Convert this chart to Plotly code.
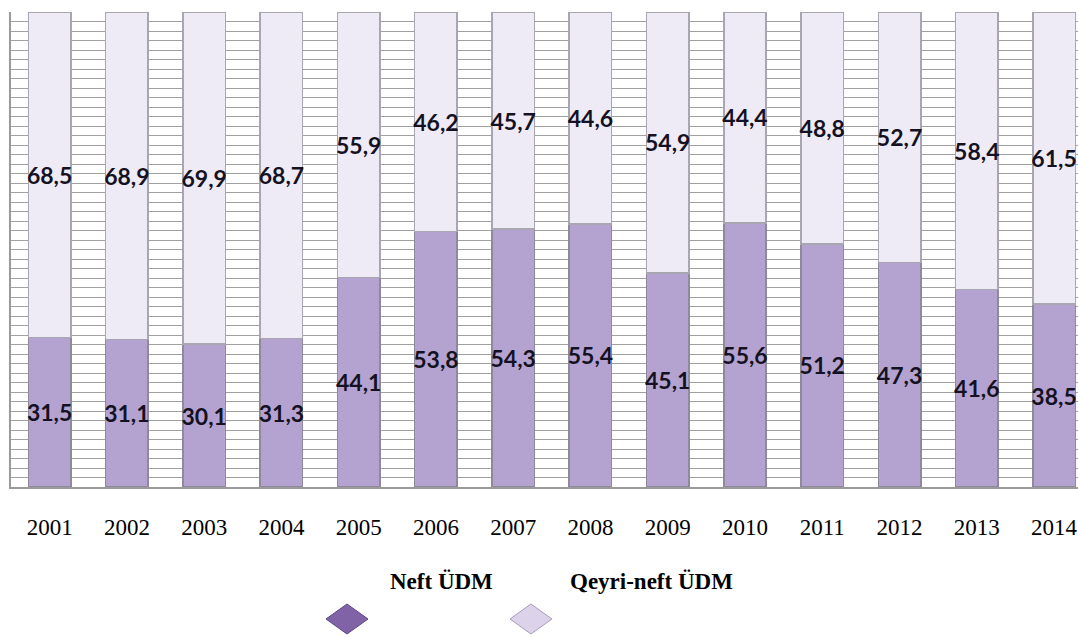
import plotly.graph_objects as go

years = ["2001", "2002", "2003", "2004", "2005", "2006", "2007",
         "2008", "2009", "2010", "2011", "2012", "2013", "2014"]
neft = [31.5, 31.1, 30.1, 31.3, 44.1, 53.8, 54.3, 55.4, 45.1, 55.6, 51.2, 47.3, 41.6, 38.5]
qeyri_neft = [68.5, 68.9, 69.9, 68.7, 55.9, 46.2, 45.7, 44.6, 54.9, 44.4, 48.8, 52.7, 58.4, 61.5]
series_names = ["Neft ÜDM", "Qeyri-neft ÜDM"]

def fmt(v):
    return f"{v:.1f}".replace(".", ",")

W, H = 1078, 637
L, R, T, B = 11, 0, 12, 150
pw, ph = W - L - R, H - T - B

label_font = dict(family="Lato", size=23, color="#141222", weight="bold")

fig = go.Figure()
fig.add_trace(go.Bar(
    x=years, y=neft, name=series_names[0],
    marker=dict(color="#b4a3d0", line=dict(color="#8e8a9c", width=1.5)),
    text=[fmt(v) for v in neft], textposition="inside",
    insidetextanchor="middle", textangle=0, constraintext="none",
    textfont=label_font, showlegend=False, cliponaxis=False,
))
fig.add_trace(go.Bar(
    x=years, y=qeyri_neft, name=series_names[1],
    marker=dict(color="#efebf6", line=dict(color="#a8a6b0", width=1.5)),
    text=[fmt(v) for v in qeyri_neft], textposition="inside",
    insidetextanchor="middle", textangle=0, constraintext="none",
    textfont=label_font, showlegend=False, cliponaxis=False,
))

fig.update_layout(
    barmode="stack", bargap=0.45,
    width=W, height=H,
    margin=dict(l=L, r=R, t=T, b=B),
    paper_bgcolor="white", plot_bgcolor="white",
    xaxis=dict(
        type="category", range=[-0.5, 13.31],
        showgrid=False, showline=True, linecolor="#9a9a9a", linewidth=1.5,
        tickfont=dict(family="Liberation Serif", size=23, color="#000000"),
        ticks="", ticklabelstandoff=19,
    ),
    yaxis=dict(
        range=[0, 100], dtick=2, showticklabels=False,
        showgrid=True, gridcolor="#a0a0a0", gridwidth=1,
        showline=True, linecolor="#9a9a9a", linewidth=1.5,
        zeroline=False, ticks="",
    ),
)

# legend drawn as text + diamond markers below (as in the reference)
def px2paper(x, y):
    return (x - L) / pw, (H - B - y) / ph

legend_items = [
    (series_names[0], 441, 581, 347, 619, "#7f63a6", "#5f4786"),
    (series_names[1], 651, 581, 531, 619, "#dcd3ea", "#a89cbf"),
]
for name, tx, ty, dx, dy, fill, edge in legend_items:
    ax, ay = px2paper(tx, ty)
    fig.add_annotation(
        text=f"<b>{name}</b>", x=ax, y=ay, xref="paper", yref="paper",
        showarrow=False, xanchor="center", yanchor="middle",
        font=dict(family="Liberation Serif", size=23, color="#000000"),
    )
    hw, hh = 21, 15
    pts = [(dx - hw, dy), (dx, dy - hh), (dx + hw, dy), (dx, dy + hh)]
    ppts = [px2paper(x, y) for x, y in pts]
    path = "M " + " L ".join(f"{x:.4f},{y:.4f}" for x, y in ppts) + " Z"
    fig.add_shape(type="path", path=path, xref="paper", yref="paper",
                  fillcolor=fill, line=dict(color=edge, width=1))

fig.write_html("out.html", config={"displayModeBar": False},
               post_script="document.body.style.margin='0';document.body.style.overflow='hidden';")
